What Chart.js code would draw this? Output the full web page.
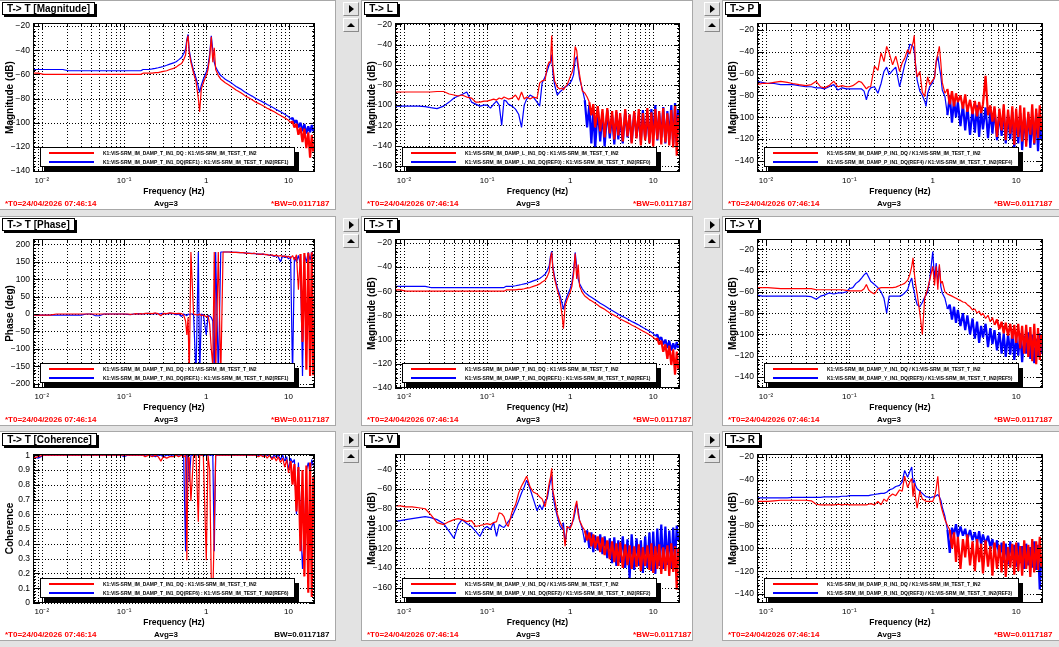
<!DOCTYPE html>
<html>
<head>
<meta charset="utf-8">
<title>K1 VIS-SRM IM transfer functions</title>
<script src="https://cdn.jsdelivr.net/npm/chart.js"></script>
<style>
  html, body { margin: 0; padding: 0; background: #e3e3e3; }
  #root { position: relative; width: 1059px; height: 647px; background: #e3e3e3; overflow: hidden; }
  .pad { position: absolute; background: #fff; box-shadow: 0 0 0 1px #a8a8a8; }
  .pad canvas { display: block; }
  .btn { position: absolute; width: 14px; height: 12px; background: #e4e4e4; border: 1px solid; border-color: #fff #8a8a8a #8a8a8a #fff; }
  .btn::after { content: ''; position: absolute; left: 50%; top: 50%; width: 0; height: 0; }
  .btn.right::after { border-top: 4px solid transparent; border-bottom: 4px solid transparent; border-left: 5px solid #000; margin: -4px 0 0 -2px; }
  .btn.up::after { border-left: 4px solid transparent; border-right: 4px solid transparent; border-bottom: 4px solid #000; margin: -2px 0 0 -4px; }
</style>
</head>
<body>
<div id="root"></div>
<script>
// frequency bins (Hz), shared by every trace
const FREQ = [
  0.0078, 0.009, 0.0105, 0.0125, 0.015, 0.018, 0.021, 0.025, 0.03, 0.035, 0.04, 0.045, 0.05, 0.057, 0.065, 0.073, 0.082, 0.092,
  0.1, 0.11, 0.12, 0.13, 0.14, 0.15, 0.16, 0.17, 0.18, 0.2, 0.22, 0.24, 0.26, 0.28, 0.3, 0.33, 0.36, 0.4, 0.43, 0.46, 0.5,
  0.53, 0.56, 0.58, 0.6, 0.62, 0.65, 0.7, 0.75, 0.8, 0.83, 0.87, 0.92, 1.0, 1.05, 1.1, 1.15, 1.2, 1.25, 1.3, 1.4,
  1.5, 1.6, 1.7, 1.8, 1.9, 2.0, 2.15, 2.3, 2.45, 2.6, 2.8, 3.0, 3.2, 3.4, 3.6, 3.8, 4.0, 4.3, 4.6, 4.9, 5.2, 5.5,
  5.9, 6.3, 6.7, 7.1, 7.5, 8.0, 8.5, 9.0, 9.5, 10, 10.6, 11.2, 11.8, 12.5, 13.2, 14, 14.8, 15.6, 16.5, 17.4, 18.3, 19.2, 20
];

// T -> T magnitude (dB)
const tRed = [
  -59,-59,-60,-60,-60,-60,-60,-60,-60,-60,-60,-60,-60,-60,-60,-60,-60,-60,
  -60,-60,-60,-60,-60,-60,-60,-59,-59, -59,-59,-58.5,-58.5,-58,-57.5, -57,-56,-55,-54,-52.5,-51,
  -48,-44,-33,-28,-42,-50, -59,-66,-80,-91,-72,-67, -61,-56,-46,-29,-50,-38,-56,-61,
  -64,-65.5,-67,-68,-69,-70, -71.5,-73,-74,-75,-76.5,-78, -79,-80,-81,-82,-83, -84,-85,-86,-87,-88,
  -89,-90,-91,-92,-93, -94,-95,-96,-97,-98, -100,-99,-104,-101,-110, -104,-116,-105,-121, -108,-129,-110,-124
];
const tBlue = [
  -56,-56,-56,-56,-56,-56,-57,-57,-57,-57,-57,-57,-57,-57,-57,-57,-57,-57,
  -57,-57,-57,-57,-57,-57,-57,-56,-56, -56,-55.5,-55,-54.5,-54,-53.5, -52.5,-51.5,-50.5,-49.5,-48,-46,
  -43,-39,-31,-27,-40,-48, -57,-63,-70,-75,-69,-64, -58,-53,-43,-28,-40,-50,-54,-58,
  -61,-62.5,-64,-65,-66,-67, -68.5,-70,-71,-72,-73.5,-75, -76,-77,-78,-79,-80, -81,-82,-83,-84,-85,
  -86,-87,-88,-89,-90, -91,-92,-93,-94,-95, -97,-96,-100,-98,-104, -100,-107,-101,-109, -103,-108,-102,-107
];

// T -> L magnitude (dB)
const lRed = [
  -87,-87,-87,-87,-87,-87,-87,-86.5,-86.5,-89,-90,-91,-90,-92,-93,-97,-97,-96,
  -96,-95,-94,-95,-93,-94,-92,-93,-94, -93,-90,-95,-87,-94,-92, -94,-92,-93,-78,-76,-75,
  -62,-57,-58,-31,-62,-76, -82,-84,-83,-85,-82,-80, -72,-68,-62,-42,-46,-60,-70,-86,
  -88,-92,-97,-110,-99,-122, -101,-126,-104,-132,-103,-128, -106,-134,-105,-130,-108, -136,-104,-131,-109,-138,
  -106,-133,-104,-140,-108, -135,-103,-138,-107,-141, -104,-134,-106,-139,-103, -137,-108,-140,-105, -142,-101,-150,-110
];
const lBlue = [
  -101,-101,-101,-101,-101,-101.5,-102.5,-103.5,-101,-97,-93,-91,-89.5,-87,-97,-99,-101,-100,
  -100,-103,-99,-96,-100,-120,-95,-96,-99, -101,-104,-109,-122,-100,-94, -90,-92,-97,-101,-78,-72,
  -66,-60,-58,-50,-68,-80, -90,-87,-85,-83,-82,-81, -78,-75,-70,-55,-52,-64,-74,-84,
  -95,-122,-100,-138,-104,-143, -103,-136,-108,-141,-105,-133, -110,-139,-107,-134,-112, -138,-106,-132,-110,-137,
  -108,-131,-111,-136,-105, -133,-109,-137,-104,-130, -100,-135,-108,-132,-102, -138,-106,-134,-100, -139,-98,-136,-104
];

// T -> P magnitude (dB)
const pRed = [
  -70,-69,-69,-68,-67,-68,-69,-70,-71,-70,-67,-72,-73,-71,-67,-72,-71,-72,
  -72,-71,-69,-67,-68,-71,-74,-72,-72, -53,-57,-41,-49,-35,-41, -52,-44,-58,-50,-46,-38,
  -42,-35,-32,-25,-52,-63, -58,-77,-81,-72,-63,-70, -66,-64,-48,-42,-35,-50,-68,-78,
  -74,-88,-76,-90,-78,-86, -80,-92,-79,-95,-84,-97, -85,-99,-86,-96,-88, -62,-98,-89,-104,-90,
  -118,-92,-112,-88,-121, -93,-115,-90,-125,-92, -118,-89,-122,-91,-127, -95,-116,-88,-124, -92,-119,-89,-112
];
const pBlue = [
  -67,-68,-69,-69,-70,-70,-70,-71,-72,-72,-73,-73,-74,-72,-70,-75,-73,-74,
  -74,-74,-74,-74,-74,-76,-84,-76,-73, -72,-78,-69,-58,-54,-61, -57,-54,-72,-62,-52,-43,
  -33,-34,-35,-40,-50,-66, -76,-80,-85,-90,-78,-72, -68,-63,-50,-44,-54,-62,-75,-81,
  -98,-80,-105,-84,-100,-86, -108,-88,-112,-90,-116,-92, -114,-89,-118,-93,-111, -91,-119,-94,-115,-92,
  -121,-96,-117,-94,-124, -98,-120,-95,-128,-99, -124,-96,-130,-100,-122, -97,-128,-101,-125, -96,-131,-103,-120
];

// T -> T phase (deg)
const phRed = [
  -3,-3,-3,-3,0,0,0,0,0,0,0,0,0,0,0,0,0,0,
  0,0,-1,0,1,0,1,0,2, 2,1,3,1,-5,2, 1,3,2,1,2,1,
  -3,-20,-60,-10,-178,178, 0,-2,-3,0,-5,-3, -8,-5,-30,-100,-150,178,-178,178,
  -178,178,178,178,178,177, 177,177,176,176,176,175, 174,174,173,175,173, 172,171,173,170,171,
  168,170,167,169,166, 168,165,167,163,166, 160,168,155,170,70, 172,-80,175,-160, 176,-178,177,-176
];
const phBlue = [
  -3,-3,-3,-3,-3,-3,-3,-3,-3,0,0,-5,-5,0,0,0,0,0,
  0,-1,-2,0,0,1,0,0,1, 2,0,2,0,1,2, 0,2,1,-2,0,-7,
  0,-3,-5,0,-2,0, 0,-178,178,-178,0,-2, -60,-4,-6,-10,-20,-178,178,-178,
  178,178,178,178,178,178, 177,177,177,176,176,175, 175,174,174,173,173, 172,172,171,171,170,
  169,168,165,168,164, 150,167,162,166,158, 165,-178,163,150,168, 140,-178,170,150, 177,155,178,165
];

// T -> T coherence
const cohRed = [
  0.98,0.99,1,1,1,1,1,1,1,1,1,1,1,1,1,1,1,1,
  1,1,1,1,1,1,1,1,0.99, 1,0.99,1,0.99,0.96,0.99, 0.98,0.99,0.99,1,0.99,1,
  0.99,1,0.29,1,0.98,0.69, 1,1,0.55,1,1,1, 0.29,1,0.9,0.15,0.04,0.5,1,1,
  1,1,1,1,1,1, 1,1,1,1,1,1, 1,1,1,1,1, 0.99,1,0.99,1,0.98,
  1,0.97,0.99,0.96,0.99, 0.95,0.98,0.92,0.97,0.88, 0.96,0.8,0.94,0.62,0.92, 0.35,0.9,0.18,0.93, 0.07,0.95,0.04,0.85
];
const cohBlue = [
  0.99,0.98,1,1,1,1,1,1,1,1,1,1,1,1,1,1,1,1,
  0.99,1,1,1,1,1,1,1,1, 1,1,0.99,1,1,0.99, 1,1,1,1,1,1,
  1,0.35,1,1,0.82,1, 1,1,1,1,1,1, 1,1,1,1,1,0.35,1,1,
  1,1,1,1,1,1, 1,1,1,1,1,1, 1,1,1,1,1, 1,1,1,1,1,
  1,0.98,1,0.99,1, 0.97,1,0.96,0.99,0.9, 0.98,0.95,0.97,0.6,0.95, 0.55,0.23,0.45,0.9, 0.95,0.88,0.97,0.93
];

// T -> Y magnitude (dB)
const yRed = [
  -56,-56,-56,-56.5,-57,-57,-57,-57,-57,-57,-58,-58,-58,-58,-58,-58,-58,-58.5,
  -59,-59,-59,-59,-59,-57,-53,-58,-60, -62,-57,-56,-56,-56,-56, -56,-55.5,-54,-53,-52,-49,
  -44,-36,-28,-42,-52,-62, -80,-100,-66,-62,-57,-49, -36,-54,-36,-58,-34,-52,-50,-60,
  -62,-63,-64,-65,-66,-67, -68,-69.5,-70,-72,-74,-77, -76,-80,-78,-82,-80, -85,-82,-88,-84,-91,
  -86,-95,-88,-99,-89, -101,-90,-104,-91,-108, -90,-113,-92,-118,-91, -121,-93,-125,-90, -128,-94,-124,-100
];
const yBlue = [
  -63,-64,-64,-64,-64,-64,-64,-64,-64,-64.5,-67,-64,-63,-61,-62,-61,-61,-60,
  -57,-56,-52,-50,-47,-44,-42,-46,-50, -53,-56,-60,-66,-80,-64, -64,-64,-64,-63,-61,-58,
  -51,-47,-55,-60,-66,-72, -74,-70,-65,-63,-60,-48, -22,-48,-33,-52,-36,-55,-61,-66,
  -76,-72,-86,-74,-89,-77, -92,-80,-96,-82,-100,-85, -104,-88,-108,-92,-103, -90,-112,-94,-109,-96,
  -115,-98,-118,-99,-121, -100,-119,-97,-124,-102, -120,-99,-126,-101,-118, -98,-123,-100,-127, -104,-121,-99,-118
];

// T -> V magnitude (dB)
const vRed = [
  -77,-77,-78,-78,-79,-80,-86,-94,-96,-93,-91,-90,-91,-93,-92,-98,-97,-96,
  -95,-96,-94,-93,-84,-85,-88,-95,-98, -83,-76,-64,-57,-52,-47, -58,-63,-65,-68,-70,-78,
  -66,-54,-48,-39,-62,-70, -85,-93,-98,-101,-118,-98, -100,-96,-88,-78,-72,-86,-92,-98,
  -102,-112,-104,-118,-106,-120, -108,-124,-109,-127,-112,-131, -113,-134,-115,-138,-114, -140,-116,-137,-117,-141,
  -118,-139,-116,-143,-119, -138,-117,-142,-115,-145, -118,-141,-116,-146,-119, -143,-117,-148,-115, -144,-118,-162,-120
];
const vBlue = [
  -93,-92,-91,-90,-89,-88,-89,-91,-95,-103,-110,-96,-91,-95,-98,-103,-108,-100,
  -98,-101,-94,-108,-96,-98,-99,-96,-93, -88,-80,-72,-64,-58,-51, -60,-70,-82,-76,-81,-72,
  -70,-58,-52,-47,-66,-76, -88,-97,-101,-94,-115,-100, -98,-95,-91,-83,-75,-82,-92,-100,
  -114,-102,-120,-104,-124,-107, -122,-106,-126,-108,-130,-110, -135,-109,-138,-112,-134, -108,-140,-111,-150,-106,
  -142,-110,-138,-112,-145, -108,-140,-104,-143,-103, -146,-100,-138,-96,-141, -98,-137,-102,-140, -99,-136,-97,-112
];

// T -> R magnitude (dB)
const rRed = [
  -59,-59,-59,-58.5,-58,-58,-58,-58,-58,-58.5,-61.5,-62,-62,-62,-62,-61.5,-62,-61.5,
  -62,-62,-62,-62,-62,-62,-62,-61.5,-61, -62,-59,-62,-57,-59,-55, -52.5,-54,-49,-50,-37,-47,
  -42,-39,-55,-43,-55,-65, -50,-57,-58,-59,-59,-59, -59,-55,-48,-37,-55,-62,-67,-75,
  -80,-84,-100,-86,-112,-90, -118,-92,-108,-88,-115,-94, -120,-92,-112,-96,-122, -93,-116,-98,-124,-95,
  -118,-97,-121,-94,-125, -99,-117,-96,-123,-95, -120,-98,-124,-93,-118, -97,-125,-92,-121, -94,-119,-90,-116
];
const rBlue = [
  -56,-56,-56,-56,-56,-56,-55.5,-55.5,-55.5,-55.5,-55.5,-55.5,-55,-55,-55,-55,-54.5,-54.5,
  -54,-54,-54,-54,-54,-54,-54,-54,-53.5, -53,-52.5,-52,-52,-51,-49, -48,-46,-45,-42,-32,-38,
  -33,-29,-43,-40,-45,-48, -50,-52,-54,-55,-55,-56, -55,-55,-54,-53,-55,-58,-64,-72,
  -84,-104,-82,-88,-79,-90, -81,-89,-83,-92,-84,-93, -86,-95,-85,-97,-88, -96,-89,-99,-92,-104,
  -93,-108,-95,-112,-96, -114,-94,-110,-97,-116, -95,-113,-98,-118,-96, -115,-99,-117,-94, -119,-97,-136,-108
];

// x axis tick labels
const DECADES = [0.01, 0.1, 1, 10];
const DECADE_LABELS = ['10\u207B\u00B2', '10\u207B\u00B9', '1', '10'];

const T0_TEXT = '*T0=24/04/2026 07:46:14';
const AVG_TEXT = 'Avg=3';
const BW_TEXT = 'BW=0.0117187';

// noisy: frequency above which the [red, blue] trace is drawn as a dense noise band
const PANELS = [
  { title: 'T-> T [Magnitude]', yTitle: 'Magnitude (dB)', dof: 'T', sep: ' : ', ref: 'REF1', red: tRed, blue: tBlue, yMin: -140.8, yMax: -17.5, step: 20, noisy: [10.5, 10.5] },
  { title: 'T-> L', yTitle: 'Magnitude (dB)', dof: 'L', sep: ' : ', ref: 'REF0', red: lRed, blue: lBlue, yMin: -166.2, yMax: -18.7, step: 20, noisy: [1.65, 1.45] },
  { title: 'T-> P', yTitle: 'Magnitude (dB)', dof: 'P', sep: ' / ', ref: 'REF4', red: pRed, blue: pBlue, yMin: -150.1, yMax: -13.6, step: 20, noisy: [1.45, 1.45] },
  { title: 'T-> T [Phase]', yTitle: 'Phase (deg)', dof: 'T', sep: ' : ', ref: 'REF1', red: phRed, blue: phBlue, yMin: -212.4, yMax: 215.3, step: 50, noisy: [13.5, 99] },
  { title: 'T-> T', yTitle: 'Magnitude (dB)', dof: 'T', sep: ' : ', ref: 'REF1', red: tRed, blue: tBlue, yMin: -140, yMax: -16.9, step: 20, noisy: [10.5, 10.5] },
  { title: 'T-> Y', yTitle: 'Magnitude (dB)', dof: 'Y', sep: ' / ', ref: 'REF5', red: yRed, blue: yBlue, yMin: -150.3, yMax: -10.3, step: 20, noisy: [5.3, 1.45] },
  { title: 'T-> T [Coherence]', yTitle: 'Coherence', dof: 'T', sep: ' : ', ref: 'REF6', red: cohRed, blue: cohBlue, yMin: 0, yMax: 1.008, step: 0.1, plainBW: true, noisy: [10.5, 99] },
  { title: 'T-> V', yTitle: 'Magnitude (dB)', dof: 'V', sep: ' / ', ref: 'REF2', red: vRed, blue: vBlue, yMin: -175.5, yMax: -24.5, step: 20, noisy: [1.45, 1.45] },
  { title: 'T-> R', yTitle: 'Magnitude (dB)', dof: 'R', sep: ' / ', ref: 'REF3', red: rRed, blue: rBlue, yMin: -147.8, yMax: -17.6, step: 20, noisy: [1.55, 1.45] }
];

// pad geometry
const COLS = [
  { x: 0, w: 335, left: 33, right: 315 },
  { x: 362, w: 330, left: 33, right: 318 },
  { x: 723, w: 336, left: 34, right: 320 }
];
const ROWS = [1, 217, 432];
const PAD_H = 208, PLOT_TOP = 22, PLOT_BOTTOM = 171;
const FONT = "'Liberation Sans', Arial, Helvetica, sans-serif";

function isDecade(v) {
  return Math.abs(Math.log10(v) - Math.round(Math.log10(v))) < 1e-6;
}

function fmtY(v, step) {
  let s;
  if (step < 1) s = Math.abs(v) < 1e-9 ? '0' : (Math.abs(v - 1) < 1e-9 ? '1' : v.toFixed(1));
  else s = String(Math.round(v));
  return s.replace('-', '\u2212');
}

const dtt = {
  id: 'dtt',
  beforeDatasetsDraw(chart, args, o) {
    const { ctx, chartArea: a, scales: { x, y } } = chart;
    ctx.save();
    ctx.strokeStyle = '#000';
    ctx.lineWidth = 1;
    ctx.setLineDash([1, 2]);
    ctx.beginPath();
    for (const t of x.ticks) {
      const px = Math.round(x.getPixelForValue(t.value)) + 0.5;
      ctx.moveTo(px, a.top); ctx.lineTo(px, a.bottom);
    }
    for (const t of y.ticks) {
      const py = Math.round(y.getPixelForValue(t.value)) + 0.5;
      ctx.moveTo(a.left, py); ctx.lineTo(a.right, py);
    }
    ctx.stroke();
    ctx.restore();
  },
  afterDatasetsDraw(chart, args, o) {
    const { ctx, chartArea: a, scales: { x, y } } = chart;
    ctx.save();

    // legend box with ROOT style shadow
    const lx = a.left + 7, ly = a.bottom - 25, lw = 255, lh = 20;
    ctx.fillStyle = '#000';
    ctx.fillRect(lx + 4, ly + 5, lw, lh);
    ctx.fillStyle = '#fff';
    ctx.fillRect(lx, ly, lw, lh);
    ctx.strokeStyle = '#000';
    ctx.lineWidth = 1;
    ctx.strokeRect(lx + 0.5, ly + 0.5, lw - 1, lh - 1);

    const items = [[o.redLabel, '#ff0000'], [o.blueLabel, '#0000ff']];
    ctx.font = `bold 10px ${FONT}`;
    const wMax = Math.max(...items.map(it => ctx.measureText(it[0]).width));
    const fs = Math.min(6, 10 * 186 / wMax);
    ctx.font = `bold ${fs}px ${FONT}`;
    ctx.textAlign = 'left';
    ctx.textBaseline = 'middle';
    items.forEach(([label, color], k) => {
      const yy = Math.round(ly + 6 + k * 8.5);
      ctx.strokeStyle = color;
      ctx.lineWidth = 2;
      ctx.beginPath(); ctx.moveTo(lx + 9, yy); ctx.lineTo(lx + 54, yy); ctx.stroke();
      ctx.fillStyle = '#000';
      ctx.fillText(label, lx + 63, yy + 0.5);
    });

    // inward ticks on all four sides
    ctx.strokeStyle = '#000';
    ctx.lineWidth = 1;
    ctx.beginPath();
    for (const t of x.ticks) {
      const px = Math.round(x.getPixelForValue(t.value)) + 0.5;
      const len = isDecade(t.value) ? 6 : 3;
      ctx.moveTo(px, a.bottom); ctx.lineTo(px, a.bottom - len);
      ctx.moveTo(px, a.top); ctx.lineTo(px, a.top + len);
    }
    const minor = o.step / 5;
    for (let k = Math.ceil(y.min / minor - 1e-9); k * minor <= y.max + 1e-9; k++) {
      const py = Math.round(y.getPixelForValue(k * minor)) + 0.5;
      const len = k % 5 === 0 ? 6 : 3;
      ctx.moveTo(a.left, py); ctx.lineTo(a.left + len, py);
      ctx.moveTo(a.right, py); ctx.lineTo(a.right - len, py);
    }
    ctx.stroke();

    // frame
    ctx.strokeRect(Math.round(a.left) + 0.5, Math.round(a.top) + 0.5,
      Math.round(a.right - a.left) - 1, Math.round(a.bottom - a.top) - 1);
    ctx.restore();
  },
  afterDraw(chart, args, o) {
    const { ctx, chartArea: a } = chart;
    ctx.save();

    // title box
    ctx.font = `bold 10px ${FONT}`;
    const bw = Math.round(ctx.measureText(o.title).width + 10), bx = 2, by = 1, bh = 13;
    ctx.fillStyle = '#000';
    ctx.fillRect(bx + 2, by + 2, bw, bh);
    ctx.fillStyle = '#fff';
    ctx.fillRect(bx, by, bw, bh);
    ctx.strokeStyle = '#000';
    ctx.lineWidth = 1;
    ctx.strokeRect(bx + 0.5, by + 0.5, bw - 1, bh - 1);
    ctx.fillStyle = '#000';
    ctx.textAlign = 'center';
    ctx.textBaseline = 'middle';
    ctx.fillText(o.title, bx + bw / 2, by + bh / 2 + 0.5);

    // axis titles
    ctx.font = `bold 8.5px ${FONT}`;
    ctx.fillText('Frequency (Hz)', (a.left + a.right) / 2, 190.5);
    ctx.save();
    ctx.translate(10, (a.top + a.bottom) / 2);
    ctx.rotate(-Math.PI / 2);
    ctx.font = `bold 10px ${FONT}`;
    ctx.fillText(o.yTitle, 0, 0);
    ctx.restore();

    // footer
    ctx.font = `bold 8px ${FONT}`;
    ctx.textAlign = 'left';
    ctx.fillStyle = '#ff0000';
    ctx.fillText(T0_TEXT, 5, 203);
    ctx.textAlign = 'center';
    ctx.fillStyle = '#000';
    ctx.fillText(AVG_TEXT, 166, 203);
    ctx.textAlign = 'right';
    ctx.fillStyle = o.plainBW ? '#000' : '#ff0000';
    ctx.fillText((o.plainBW ? '' : '*') + BW_TEXT, 329.5, 203);
    ctx.restore();
  }
};

function xTickValues(min, max) {
  const out = [];
  for (const d of [0.001, 0.01, 0.1, 1, 10]) {
    for (let k = 1; k <= 9; k++) {
      const v = k * d;
      if (v >= min && v <= max) out.push(v);
    }
  }
  return out;
}

function yTickValues(min, max, step) {
  const out = [];
  for (let k = Math.ceil(min / step - 1e-9); k * step <= max + 1e-9; k++) out.push(+(k * step).toFixed(6));
  return out;
}

function trace(label, values, color, noisyFrom) {
  return {
    label,
    data: FREQ.map((f, j) => ({ x: f, y: values[j] })),
    borderColor: color,
    borderWidth: 1.2,
    borderJoinStyle: 'bevel',
    pointRadius: 0,
    tension: 0,
    fill: false,
    segment: { borderWidth: c => (c.p0.parsed.x >= noisyFrom ? 2.2 : 1.2) }
  };
}

const root = document.getElementById('root');
const X_MIN = 0.0078, X_MAX = 21;

PANELS.forEach((p, i) => {
  const col = COLS[i % 3];
  const top = ROWS[Math.floor(i / 3)];

  const pad = document.createElement('div');
  pad.className = 'pad';
  pad.style.left = col.x + 'px';
  pad.style.top = top + 'px';
  pad.style.width = col.w + 'px';
  pad.style.height = PAD_H + 'px';
  const cv = document.createElement('canvas');
  cv.width = col.w;
  cv.height = PAD_H;
  cv.style.width = col.w + 'px';
  cv.style.height = PAD_H + 'px';
  pad.appendChild(cv);
  root.appendChild(pad);

  if (i % 3 > 0) {
    ['right', 'up'].forEach((dir, k) => {
      const b = document.createElement('div');
      b.className = 'btn ' + dir;
      b.style.left = (col.x - 19) + 'px';
      b.style.top = (top + 1 + k * 16) + 'px';
      root.appendChild(b);
    });
  }

  const chan = `K1:VIS-SRM_IM_DAMP_${p.dof}_IN1_DQ`;
  const test = 'K1:VIS-SRM_IM_TEST_T_IN2';
  const redLabel = chan + p.sep + test;
  const blueLabel = `${chan}(${p.ref})${p.sep}${test}(${p.ref})`;

  new Chart(cv, {
    type: 'line',
    data: {
      datasets: [
        trace(redLabel, p.red, '#ff0000', p.noisy[0]),
        trace(blueLabel, p.blue, '#0000ff', p.noisy[1])
      ]
    },
    options: {
      responsive: false,
      animation: false,
      events: [],
      layout: {
        autoPadding: false,
        padding: { left: 0, right: col.w - col.right, top: PLOT_TOP, bottom: PAD_H - PLOT_BOTTOM - 15 }
      },
      plugins: {
        legend: { display: false },
        tooltip: { enabled: false },
        dtt: { title: p.title, yTitle: p.yTitle, step: p.step, plainBW: !!p.plainBW, redLabel, blueLabel }
      },
      scales: {
        x: {
          type: 'logarithmic',
          min: X_MIN,
          max: X_MAX,
          grid: { display: false, drawTicks: false },
          border: { display: false },
          ticks: {
            autoSkip: false, maxRotation: 0, minRotation: 0, padding: 4, color: '#000',
            font: { family: FONT, size: 8 },
            callback: v => {
              const k = DECADES.findIndex(d => Math.abs(v / d - 1) < 1e-6);
              return k >= 0 ? DECADE_LABELS[k] : '';
            }
          },
          afterBuildTicks: s => { s.ticks = xTickValues(X_MIN, X_MAX).map(v => ({ value: v })); },
          afterFit: s => { s.height = 15; }
        },
        y: {
          type: 'linear',
          min: p.yMin,
          max: p.yMax,
          grid: { display: false, drawTicks: false },
          border: { display: false },
          ticks: {
            padding: 3, color: '#000',
            font: { family: FONT, size: 8.5 },
            callback: v => fmtY(v, p.step)
          },
          afterBuildTicks: s => { s.ticks = yTickValues(p.yMin, p.yMax, p.step).map(v => ({ value: v })); },
          afterFit: s => { s.width = col.left; }
        }
      }
    },
    plugins: [dtt]
  });
});
</script>
</body>
</html>
